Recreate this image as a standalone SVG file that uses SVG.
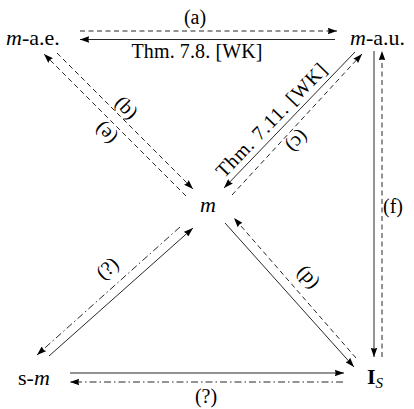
<svg xmlns="http://www.w3.org/2000/svg" width="414" height="409" viewBox="0 0 414 409" font-family="'Liberation Serif', 'Times New Roman', serif">
<defs>
<style>
text{font-family:"Liberation Serif","Times New Roman",serif;font-size:20px;fill:#000}
.n{font-size:22px}
.it{font-style:italic}
.lbl{text-anchor:middle}
.c{stroke:#000;stroke-width:0.85;fill:none}
.d{stroke-dasharray:5 3.5}
.dd{stroke-dasharray:7 3 1.5 3}
</style>
<marker id="ah" viewBox="0 0 10 7" refX="10" refY="3.5" markerWidth="9.5" markerHeight="6.6" orient="auto" markerUnits="userSpaceOnUse">
<path d="M0,0 L10,3.5 L0,7 Q2,3.5 0,0 z" fill="#000"/>
</marker>
</defs>
<rect width="414" height="409" fill="#fff"/>
<g id="connectors">
<path class="c d" d="M80,31 H337" marker-end="url(#ah)"/>
<path class="c" d="M335,39.5 H80" marker-end="url(#ah)"/>
<path class="c d" d="M57,53 L193,189" marker-end="url(#ah)"/>
<path class="c d" d="M186,196 L44,54" marker-end="url(#ah)"/>
<path class="c" d="M355,52 L224,188" marker-end="url(#ah)"/>
<path class="c d" d="M232,195 L362,54" marker-end="url(#ah)"/>
<path class="c" d="M225,223 L354,367" marker-end="url(#ah)"/>
<path class="c d" d="M356,358 L234,218" marker-end="url(#ah)"/>
<path class="c dd" d="M180,227 L37,355" marker-end="url(#ah)"/>
<path class="c" d="M49,356 L193,228" marker-end="url(#ah)"/>
<path class="c" d="M374,51 V357" marker-end="url(#ah)"/>
<path class="c d" d="M382,357 V51" marker-end="url(#ah)"/>
<path class="c" d="M70,373 H344" marker-end="url(#ah)"/>
<path class="c dd" d="M343,382 H70" marker-end="url(#ah)"/>
</g>
<g id="labels">
<text class="lbl" x="195" y="24">(a)</text>
<text class="lbl" x="197" y="58" textLength="131" lengthAdjust="spacing">Thm. 7.8. [WK]</text>
<text class="lbl" transform="translate(127,107) rotate(45)" dy="0.35em">(b)</text>
<text class="lbl" transform="translate(105,134) rotate(225)" dy="0.35em">(e)</text>
<text class="lbl" transform="translate(271,120) rotate(-46)" dy="0.35em" textLength="150" lengthAdjust="spacing">Thm. 7.11. [WK]</text>
<text class="lbl" transform="translate(298,142) rotate(134)" dy="0.35em">(c)</text>
<text class="lbl" transform="translate(306,279) rotate(229)" dy="0.35em">(d)</text>
<text class="lbl" transform="translate(107,268) rotate(-41)" dy="0.35em">(?)</text>
<text class="lbl" x="393" y="213">(f)</text>
<text class="lbl" x="206" y="403">(?)</text>
</g>
<g id="node-mae"><text class="n" x="6" y="45"><tspan class="it">m</tspan>-a.e.</text></g>
<g id="node-mau"><text class="n" x="350" y="45"><tspan class="it">m</tspan>-a.u.</text></g>
<g id="node-m"><text class="n lbl it" x="208" y="212">m</text></g>
<g id="node-sm"><text class="n" x="18" y="385">s-<tspan class="it">m</tspan></text></g>
<g id="node-is"><text class="n" x="367" y="384"><tspan font-weight="bold">I</tspan><tspan class="it" font-size="15" dy="4">S</tspan></text></g>
</svg>
